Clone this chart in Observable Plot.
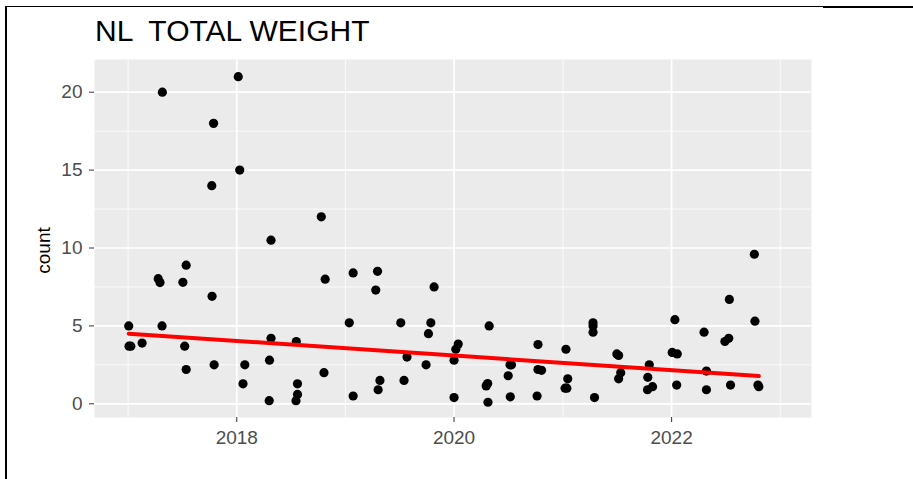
<!DOCTYPE html>
<html>
<head>
<meta charset="utf-8">
<script src="https://cdn.jsdelivr.net/npm/d3@7"></script>
<script src="https://cdn.jsdelivr.net/npm/@observablehq/plot@0.6"></script>
<style>
  html, body { margin: 0; padding: 0; background: #fff; }
  #wrap { position: relative; width: 913px; height: 479px; overflow: hidden; font-family: "Liberation Sans", Arial, sans-serif; }
  #title { position: absolute; left: 95px; top: 16px; font-size: 30px; line-height: 30px; white-space: pre; color: #000; }
  #chart { position: absolute; left: 0; top: 50px; }
  .rule { position: absolute; background: #000; }
</style>
</head>
<body>
<div id="wrap">
  <div class="rule" style="left:5px; top:6px; width:2px; height:473px;"></div>
  <div class="rule" style="left:5px; top:6px; width:818px; height:1px;"></div>
  <div class="rule" style="left:823px; top:6px; width:90px; height:2px;"></div>
  <div id="title">NL  TOTAL WEIGHT</div>
  <div id="chart"></div>
</div>
<script>
// Sample dates and total weight counts
const dates = [
  "2017-01-03","2017-01-04","2017-01-10","2017-02-17","2017-04-12","2017-04-18","2017-04-25","2017-04-26",
  "2017-07-04","2017-07-10","2017-07-15","2017-07-15","2017-10-09","2017-10-10","2017-10-15","2017-10-17",
  "2018-01-06","2018-01-11","2018-01-22","2018-01-28","2018-04-20","2018-04-21","2018-04-26","2018-04-26",
  "2018-07-19","2018-07-20","2018-07-24","2018-07-24","2018-10-12","2018-10-21","2018-10-25",
  "2019-01-14","2019-01-27","2019-01-27","2019-04-13","2019-04-19","2019-04-21","2019-04-27",
  "2019-07-06","2019-07-17","2019-07-27","2019-09-29","2019-10-07","2019-10-15","2019-10-26",
  "2020-01-01","2020-01-01","2020-01-07","2020-01-15","2020-04-18","2020-04-23","2020-04-24","2020-04-28",
  "2020-07-01","2020-07-07","2020-07-12","2020-07-08","2020-10-06","2020-10-09","2020-10-09","2020-10-21",
  "2021-01-08","2021-01-14","2021-01-11","2021-01-17","2021-04-12","2021-04-12","2021-04-12","2021-04-17",
  "2021-07-01","2021-07-07","2021-07-07","2021-07-14","2021-10-12","2021-10-13","2021-10-18","2021-10-29",
  "2022-01-03","2022-01-20","2022-01-12","2022-01-18","2022-04-20","2022-04-28","2022-04-28",
  "2022-06-29","2022-07-12","2022-07-14","2022-07-18","2022-10-06","2022-10-08","2022-10-18","2022-10-21"
];
const counts = [
  5.0, 3.7, 3.7, 3.9, 8.03, 7.78, 5.0, 20.0,
  7.8, 3.7, 8.9, 2.2, 14.0, 6.9, 18.0, 2.5,
  21.0, 15.0, 1.28, 2.5, 0.2, 2.8, 10.5, 4.2,
  0.2, 4.0, 1.28, 0.6, 12.0, 2.0, 8.0,
  5.2, 8.4, 0.5, 7.3, 8.5, 0.9, 1.5,
  5.2, 1.5, 3.0, 2.5, 4.5, 5.2, 7.5,
  2.8, 0.4, 3.5, 3.83, 1.15, 1.3, 0.1, 5.0,
  1.8, 2.5, 2.5, 0.45, 0.5, 3.8, 2.2, 2.15,
  1.0, 1.0, 3.5, 1.6, 5.2, 5.0, 4.6, 0.4,
  3.2, 3.1, 1.6, 2.0, 0.9, 1.7, 2.5, 1.1,
  3.3, 3.2, 5.4, 1.2, 4.6, 2.1, 0.9,
  4.0, 4.2, 6.7, 1.2, 9.6, 5.3, 1.2, 1.1
];
// Fitted trend line (start and end of the straight red line)
const trendDates = ["2017-01-03", "2022-10-21"];
const trendValues = [4.5, 1.78];

const xMajorTicks = ["2018-01-01", "2020-01-01", "2022-01-01"];
const xMinorTicks = ["2017-01-01", "2019-01-01", "2021-01-01", "2023-01-01"];
const yMajorTicks = [0, 5, 10, 15, 20];
const yMinorTicks = [2.5, 7.5, 12.5, 17.5];
const xDomain = ["2016-09-10", "2023-04-16"];
const yDomain = [-0.88, 22.1];
const yLabel = "count";

const toDate = s => new Date(s);
const data = dates.map((d, i) => ({date: toDate(d), count: counts[i]}));
const trend = trendDates.map((d, i) => ({date: toDate(d), count: trendValues[i]}));

const chart = Plot.plot({
  width: 913,
  height: 429,
  marginTop: 9,
  marginBottom: 62,
  marginLeft: 94,
  marginRight: 102,
  style: {fontFamily: "'Liberation Sans', Arial, sans-serif", background: "transparent", overflow: "visible"},
  x: {type: "utc", domain: xDomain.map(toDate)},
  y: {domain: yDomain},
  marks: [
    Plot.frame({fill: "#EBEBEB", stroke: null}),
    Plot.gridX(xMinorTicks.map(toDate), {stroke: "white", strokeOpacity: 1, strokeWidth: 0.8}),
    Plot.gridX(xMajorTicks.map(toDate), {stroke: "white", strokeOpacity: 1, strokeWidth: 1.7}),
    Plot.gridY(yMinorTicks, {stroke: "white", strokeOpacity: 1, strokeWidth: 0.8}),
    Plot.gridY(yMajorTicks, {stroke: "white", strokeOpacity: 1, strokeWidth: 1.7}),
    Plot.axisX(xMajorTicks.map(toDate), {tickFormat: d3.utcFormat("%Y"), tickSize: 5, tickPadding: 8, fontSize: 19, stroke: "#333333", fill: "#4D4D4D", label: null}),
    Plot.axisY(yMajorTicks, {tickSize: 5, tickPadding: 7, fontSize: 19, stroke: "#333333", fill: "#4D4D4D", label: null}),
    Plot.text([yLabel], {text: d => d, frameAnchor: "left", textAnchor: "middle", dx: -51, dy: 12, rotate: -90, fontSize: 19, fill: "#000"}),
    Plot.dot(data, {x: "date", y: "count", r: 4.6, fill: "black", stroke: null}),
    Plot.line(trend, {x: "date", y: "count", stroke: "#FF0000", strokeWidth: 4})
  ]
});
document.getElementById("chart").appendChild(chart);
</script>
</body>
</html>
